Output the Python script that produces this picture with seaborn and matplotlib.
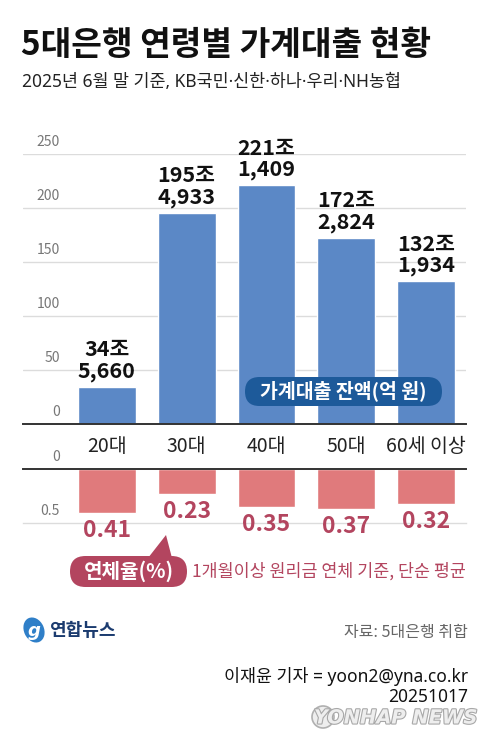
import numpy as np
import pandas as pd
import matplotlib
matplotlib.use("Agg")
import matplotlib.pyplot as plt
import seaborn as sns
from matplotlib import transforms
from matplotlib.patches import FancyBboxPatch, Polygon, Ellipse, Circle
import matplotlib.patheffects as pe

# ---- data ----
categories = ["20대", "30대", "40대", "50대", "60세 이상"]
loan_jo = [34, 195, 221, 172, 132]          # 조 원
loan_eok = [5660, 4933, 1409, 2824, 1934]   # 억 원 (remainder)
delinq = [0.41, 0.23, 0.35, 0.37, 0.32]     # %
loan_ticks = [0, 50, 100, 150, 200, 250]
delinq_ticks = [0, 0.5]

title = "5대은행 연령별 가계대출 현황"
subtitle = "2025년 6월 말 기준, KB국민·신한·하나·우리·NH농협"
legend_loan = "가계대출 잔액(억 원)"
legend_rate = "연체율(%)"
note_rate = "1개월이상 원리금 연체 기준, 단순 평균"
source = "자료: 5대은행 취합"
credit = "이재윤 기자 = yoon2@yna.co.kr"
date = "20251017"

sns.set_theme(style="white")
plt.rcParams["font.family"] = ["Noto Sans CJK KR", "DejaVu Sans"]
MIXED = ["Noto Sans", "Noto Sans CJK KR", "DejaVu Sans"]

BLUE = "#5b88c6"
RED = "#e07a7c"
DARKRED = "#b3455f"
NAVY = "#1d5a9a"

W, H = 491, 750
fig = plt.figure(figsize=(W / 100, H / 100), dpi=100)
fig.patch.set_facecolor("white")


def rect(x0, y_top, x1, y_bot):
    return [x0 / W, 1 - y_bot / H, (x1 - x0) / W, (y_bot - y_top) / H]


df = pd.DataFrame({
    "age": categories,
    "loan": [j + e / 10000 for j, e in zip(loan_jo, loan_eok)],
    "rate": delinq,
})

# ---- top chart: loan balance ----
ax1 = fig.add_axes(rect(23, 154, 466, 424))
sns.barplot(data=df, x="age", y="loan", color=BLUE, saturation=1,
            width=0.725, ax=ax1, zorder=2)
ax1.set_xlim(-1.05, 4.5)
ax1.set_ylim(0, 250)
ax1.set_yticks(loan_ticks)
ax1.set_yticklabels([])
ax1.tick_params(axis="y", length=0)
ax1.yaxis.grid(True, color="#dcdcdc", lw=1)
ax1.set_axisbelow(True)
for s in ["top", "left", "right"]:
    ax1.spines[s].set_visible(False)
ax1.spines["bottom"].set_color("#333333")
ax1.spines["bottom"].set_linewidth(1.4)
ax1.set_xlabel("")
ax1.set_ylabel("")
ax1.tick_params(axis="x", length=0, pad=9, labelsize=14, labelcolor="#222222")
ax1.set_facecolor("none")

xr = (60 - 23) / 443
tr1 = transforms.offset_copy(ax1.get_yaxis_transform(), fig=fig, x=0, y=5, units="dots")
for t in loan_ticks:
    ax1.text(xr, t, f"{t}", transform=tr1, ha="right", va="bottom",
             fontsize=10, color="#777777")

for i, (j, e, v) in enumerate(zip(loan_jo, loan_eok, df["loan"])):
    ax1.annotate(f"{j}조\n{e:,}", xy=(i, v), xytext=(0, 5),
                 textcoords="offset pixels", ha="center", va="bottom",
                 fontsize=15.5, fontweight="bold", color="#111111",
                 linespacing=1.0)

# ---- bottom chart: delinquency rate ----
ax2 = fig.add_axes(rect(23, 469, 466, 523))
sns.barplot(data=df, x="age", y="rate", color=RED, saturation=1,
            width=0.725, ax=ax2, zorder=2)
ax2.set_xlim(-1.05, 4.5)
ax2.set_ylim(0.5, 0)
ax2.set_yticks(delinq_ticks)
ax2.set_yticklabels([])
ax2.tick_params(axis="y", length=0)
ax2.tick_params(axis="x", length=0, labelbottom=False)
for s in ["left", "right"]:
    ax2.spines[s].set_visible(False)
ax2.spines["top"].set_color("#333333")
ax2.spines["top"].set_linewidth(1.4)
ax2.spines["bottom"].set_color("#dcdcdc")
ax2.spines["bottom"].set_linewidth(1)
ax2.set_xlabel("")
ax2.set_ylabel("")
ax2.set_facecolor("none")

tr2 = transforms.offset_copy(ax2.get_yaxis_transform(), fig=fig, x=0, y=5, units="dots")
for t in delinq_ticks:
    ax2.text(xr, t, f"{t:g}", transform=tr2, ha="right", va="bottom",
             fontsize=10, color="#777777")

for i, r in enumerate(delinq):
    ax2.annotate(f"{r:.2f}", xy=(i, r), xytext=(0, -6),
                 textcoords="offset pixels", ha="center", va="top",
                 fontsize=16.5, fontweight="bold", color=DARKRED)

# ---- overlay for titles, legends, footer ----
ov = fig.add_axes([0, 0, 1, 1], zorder=10)
ov.set_xlim(0, W)
ov.set_ylim(H, 0)
ov.axis("off")
ov.patch.set_alpha(0)

ov.text(21, 45, title, fontsize=24, fontweight="bold", ha="left", va="center",
        color="#111111")
ov.text(22, 82, subtitle, fontsize=12.5, ha="left", va="center", color="#222222",
        family=MIXED)

# blue legend pill
ov.add_patch(FancyBboxPatch((245, 377), 197, 29,
                            boxstyle="round,pad=0,rounding_size=14.5",
                            fc=NAVY, ec="none"))
ov.text(343.5, 391, legend_loan, fontsize=14, fontweight="bold",
        color="white", ha="center", va="center")

# red legend pill with pointer
ov.add_patch(Polygon([(148, 558), (172, 558), (166, 535)], closed=True,
                     fc=DARKRED, ec="none"))
ov.add_patch(FancyBboxPatch((70, 556), 117, 31,
                            boxstyle="round,pad=0,rounding_size=15.5",
                            fc=DARKRED, ec="none"))
ov.text(128.5, 571, legend_rate, fontsize=14.5, fontweight="bold",
        color="white", ha="center", va="center")
ov.text(192, 571, note_rate, fontsize=12.5, color=DARKRED, ha="left", va="center")

# footer
ov.add_patch(Ellipse((34, 630), 20, 26, angle=-25, fc="#2f7fc8", ec="none"))
ov.text(34, 631, "g", fontsize=13, fontstyle="italic", fontweight="bold",
        color="white", ha="center", va="center", family=["DejaVu Sans"])
ov.text(49, 630, "연합뉴스", fontsize=13, fontweight="bold", color="#1b3b6f",
        ha="left", va="center")
ov.text(468, 633, source, fontsize=11.5, color="#666666", ha="right", va="center")
ov.text(468, 676, credit, fontsize=12.5, color="#111111", ha="right", va="center",
        family=MIXED)
ov.text(468, 697, date, fontsize=12.5, color="#111111", ha="right", va="center",
        family=MIXED)

ov.add_patch(Circle((323, 717), 11, fc="#eeeeee", ec="#b0b0b0", lw=1.2))
wm = ov.text(478, 718, "YONHAP NEWS", fontsize=14, fontweight="bold",
             fontstyle="italic", color="#eeeeee", ha="right", va="center",
             family=["DejaVu Sans"])
wm.set_path_effects([pe.withStroke(linewidth=1.6, foreground="#a8a8a8")])

fig.savefig("out.png", dpi=100, facecolor="white")
